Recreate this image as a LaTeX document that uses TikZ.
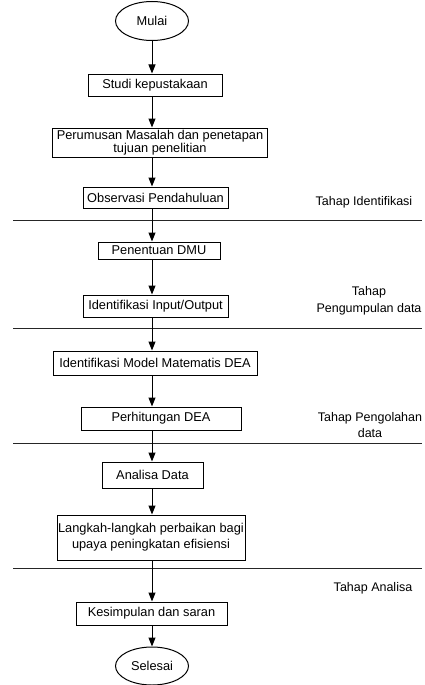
\documentclass[tikz,border=0pt]{standalone}
\usepackage{fontspec}
\setmainfont{Liberation Sans}
\usetikzlibrary{arrows.meta,shapes.geometric}
\begin{document}
\begin{tikzpicture}[x=1pt,y=-1pt,
  font=\fontsize{12.8}{13.5}\selectfont,
  box/.style={draw=black,line width=1pt,rectangle,inner sep=0pt,align=center},
  term/.style={draw=black,line width=1pt,ellipse,inner sep=0pt,minimum width=73pt,minimum height=39pt},
  flow/.style={draw=black,line width=1pt,-{Triangle[length=9pt,width=7pt]}},
  sep/.style={draw=black!85,line width=1pt},
  lbl/.style={align=center,inner sep=0pt,font=\fontsize{12.5}{16.5}\selectfont}]
\useasboundingbox (0,0) rectangle (425,685);
\coordinate (ax) at (152,0);
\node[term] (mulai) at (152,21) {Mulai};
\node[box,minimum width=134pt,minimum height=22pt] (studi) at (155,85) {Studi kepustakaan};
\node[box,minimum width=215pt,minimum height=29pt] (rumus) at (160,142.5) {Perumusan Masalah dan penetapan\\tujuan penelitian};
\node[box,minimum width=145pt,minimum height=21pt] (obs) at (155.5,197.5) {Observasi Pendahuluan};
\node[box,minimum width=122pt,minimum height=17pt] (dmu) at (159,250.5) {Penentuan DMU};
\node[box,minimum width=145pt,minimum height=22pt] (io) at (155.5,306) {Identifikasi Input/Output};
\node[box,minimum width=204pt,minimum height=24pt] (model) at (155,363) {Identifikasi Model Matematis DEA};
\node[box,minimum width=160pt,minimum height=23pt] (hitung) at (161,418.5) {Perhitungan DEA};
\node[box,minimum width=101pt,minimum height=26pt] (analisa) at (152.5,475) {Analisa Data};
\node[box,minimum width=188pt,minimum height=45pt,font=\fontsize{12.8}{16}\selectfont] (langkah) at (151,537.5) {Langkah-langkah perbaikan bagi\\upaya peningkatan efisiensi};
\node[box,minimum width=151pt,minimum height=23pt] (simpul) at (151.5,613.5) {Kesimpulan dan saran};
\node[term,minimum height=38pt] (selesai) at (152,666) {Selesai};

\node[lbl] (t1) at (364,202) {Tahap Identifikasi};
\node[lbl] (t2) at (369,301) {Tahap\\Pengumpulan data};
\node[lbl] (t3) at (370,425) {Tahap Pengolahan\\data};
\node[lbl] (t4) at (373,588) {Tahap Analisa};

\coordinate (l1a) at (13,220); \coordinate (l1b) at (422,220);
\coordinate (l2a) at (13,328); \coordinate (l2b) at (422,328);
\coordinate (l3a) at (13,443); \coordinate (l3b) at (422,443);
\coordinate (l4a) at (13,568); \coordinate (l4b) at (422,568);
\draw[sep] (l1a) -- (l1b);
\draw[sep] (l2a) -- (l2b);
\draw[sep] (l3a) -- (l3b);
\draw[sep] (l4a) -- (l4b);

\draw[flow] (mulai.south) -- (studi.north -| ax);
\draw[flow] (studi.south -| ax) -- (rumus.north -| ax);
\draw[flow] (rumus.south -| ax) -- (obs.north -| ax);
\draw[flow] (obs.south -| ax) -- (dmu.north -| ax);
\draw[flow] (dmu.south -| ax) -- (io.north -| ax);
\draw[flow] (io.south -| ax) -- (model.north -| ax);
\draw[flow] (model.south -| ax) -- (hitung.north -| ax);
\draw[flow] (hitung.south -| ax) -- (analisa.north -| ax);
\draw[flow] (analisa.south -| ax) -- (langkah.north -| ax);
\draw[flow] (langkah.south -| ax) -- (simpul.north -| ax);
\draw[flow] (simpul.south -| ax) -- (selesai.north);
\end{tikzpicture}
\end{document}
